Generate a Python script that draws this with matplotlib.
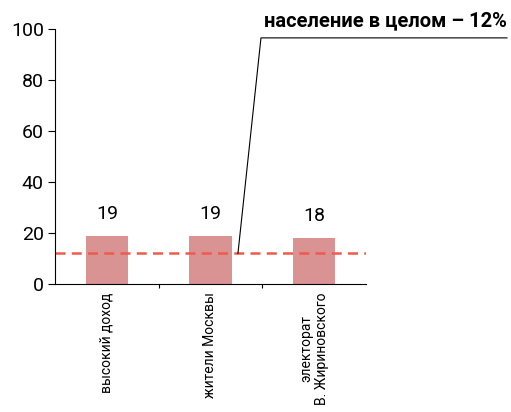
import matplotlib.pyplot as plt
import numpy as np

categories = ["высокий доход", "жители Москвы", "электорат\nВ. Жириновского"]
values = [19, 19, 18]
population = 12
note = "население в целом – 12%"

plt.rcParams['font.family'] = ['Roboto', 'DejaVu Sans']

fig = plt.figure(figsize=(5.11, 4.12), dpi=100)
ax = fig.add_axes([0.1076, 0.3107, 0.6086, 0.619])

x = np.arange(len(categories))
ax.bar(x, values, width=0.41, color='#d99393', zorder=1)
for xi, v in zip(x, values):
	ax.text(xi, v + 5, str(v), ha='center', va='bottom', fontsize=14)

ax.axhline(population, color='#ef5a4c', lw=1.8, ls=(0, (4, 2.5)), zorder=2)

# leader line to the note
ax.plot([1.265, 1.487, 3.86], [population, 96.5, 96.5], color='black', lw=0.8, clip_on=False)
ax.text(3.86, 103, note, ha='right', va='center', fontsize=14.5, fontweight='bold')

ax.set_xlim(-0.5, 2.5)
ax.set_ylim(0, 100)
ax.set_yticks([0, 20, 40, 60, 80, 100])
ax.tick_params(axis='y', labelsize=14, length=5, width=0.8, pad=3)
ax.set_xticks(x)
ax.set_xticklabels(categories, rotation=90, va='top', ha='center', fontsize=10, multialignment='center', linespacing=1.15)
ax.tick_params(axis='x', length=0, pad=6)
ax.set_xticks([0.5, 1.5], minor=True)
ax.tick_params(axis='x', which='minor', length=3, width=0.8)

ax.spines['top'].set_visible(False)
ax.spines['right'].set_visible(False)
ax.spines['left'].set_linewidth(0.8)
ax.spines['bottom'].set_linewidth(0.8)

fig.savefig("out.png", dpi=100)
